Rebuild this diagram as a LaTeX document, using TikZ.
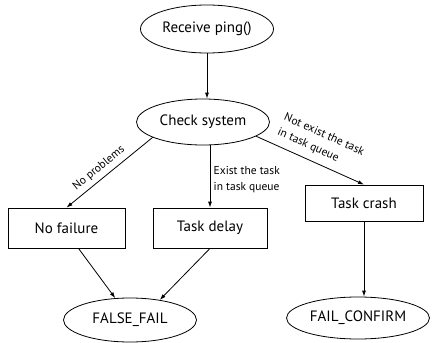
\documentclass[tikz,border=0pt]{standalone}
\usepackage{fontspec}
\setmainfont{PT Sans}
\usepackage{tikz}
\usetikzlibrary{arrows.meta,positioning,calc,shapes.geometric}

\begin{document}
\begin{tikzpicture}[>={Latex[length=6pt,width=4pt]},x=1pt,y=-1pt,line width=0.8pt,
    every node/.style={align=center,font=\fontsize{15}{17}\selectfont},
    state/.style={draw,ellipse,inner sep=0pt},
    result/.style={draw,inner sep=0pt},
    edgelabel/.style={font=\fontsize{11.5}{16}\selectfont,align=left}]
  \useasboundingbox (0,0) rectangle (432,343);
  \node[state,minimum width=133pt,minimum height=48pt] (recv) at (207,29) {Receive ping()};
  \node[state,minimum width=133pt,minimum height=46pt] (check) at (203,122) {Check system};
  \node[result,minimum width=117pt,minimum height=40pt] (nofail) at (66.5,228) {No failure};
  \node[result,minimum width=114pt,minimum height=40pt] (delay) at (210,228) {Task delay};
  \node[result,minimum width=118pt,minimum height=36pt] (crash) at (364,203) {Task crash};
  \node[state,minimum width=133pt,minimum height=44pt] (falsefail) at (130,320) {FALSE\_FAIL};
  \node[state,minimum width=143pt,minimum height=42pt] (failconf) at (358,318) {FAIL\_CONFIRM};
  \draw[->] (recv.south) -- (recv.south |- check.north);
  \draw[->] (check.197) -- node[edgelabel,pos=0.55,sloped,above=1pt] {No problems} (nofail.north);
  \draw[->] (delay.north |- check.south) -- node[edgelabel,right,pos=0.55] {Exist the task\\in task queue} (delay.north);
  \draw[->] (check.345) -- node[edgelabel,pos=0.52,sloped,above=4pt] {Not exist the task\\in task queue} (crash.north);
  \draw[->] ([xshift=12pt]nofail.south) -- (falsefail.124);
  \draw[->] (delay.south) -- (falsefail.34);
  \draw[->] (crash.south) -- (crash.south |- failconf.north);
\end{tikzpicture}
\end{document}
